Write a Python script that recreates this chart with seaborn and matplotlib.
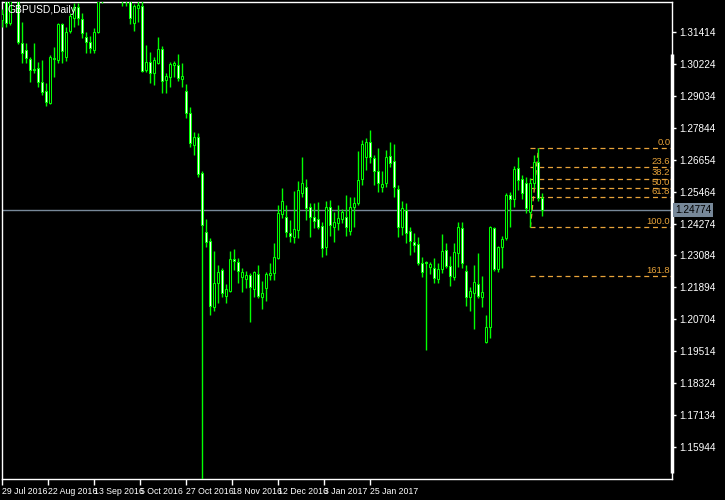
import numpy as np
import matplotlib
matplotlib.use("Agg")
import matplotlib.pyplot as plt
import matplotlib.transforms as mtransforms
import seaborn as sns

symbol_title = "GBPUSD,Daily"

opens = [1.3185, 1.3259, 1.3174, 1.3267, 1.3282, 1.3099, 1.3073, 1.3040, 1.3003, 1.3006,
         1.2954, 1.2921, 1.2876, 1.3044, 1.3036, 1.3170, 1.3047, 1.3144, 1.3193, 1.3233,
         1.3189, 1.3122, 1.3103, 1.3073, 1.3140, 1.3282, 1.3304, 1.3326, 1.3312, 1.3334,
         1.3304, 1.3267, 1.3274, 1.3174, 1.3230, 1.3237, 1.2999, 1.3029, 1.2988, 1.3025,
         1.3077, 1.2962, 1.2973, 1.3017, 1.3017, 1.2965, 1.2921, 1.2839, 1.2720, 1.2749,
         1.2615, 1.2396, 1.2362, 1.2117, 1.2206, 1.2254, 1.2158, 1.2176, 1.2295, 1.2284,
         1.2228, 1.2221, 1.2236, 1.2184, 1.2239, 1.2154, 1.2187, 1.2236, 1.2243, 1.2299,
         1.2463, 1.2452, 1.2392, 1.2377, 1.2403, 1.2541, 1.2563, 1.2489, 1.2452, 1.2444,
         1.2418, 1.2340, 1.2489, 1.2414, 1.2429, 1.2444, 1.2452, 1.2400, 1.2489, 1.2504,
         1.2593, 1.2675, 1.2731, 1.2671, 1.2623, 1.2563, 1.2578, 1.2679, 1.2660, 1.2556,
         1.2414, 1.2478, 1.2399, 1.2359, 1.2351, 1.2280, 1.2284, 1.2266, 1.2262, 1.2221,
         1.2258, 1.2329, 1.2269, 1.2228, 1.2318, 1.2411, 1.2251, 1.2154, 1.2169, 1.2202,
         1.2154, 1.1986, 1.2042, 1.2411, 1.2258, 1.2340, 1.2373, 1.2534, 1.2519, 1.2634,
         1.2593, 1.2578, 1.2470, 1.2578, 1.2656, 1.2522]

highs = [1.3226, 1.3278, 1.3282, 1.3312, 1.3297, 1.3178, 1.3099, 1.3047, 1.3099, 1.3029,
         1.3036, 1.2950, 1.3055, 1.3085, 1.3174, 1.3174, 1.3159, 1.3211, 1.3248, 1.3248,
         1.3211, 1.3140, 1.3125, 1.3155, 1.3289, 1.3334, 1.3352, 1.3364, 1.3371, 1.3364,
         1.3334, 1.3319, 1.3297, 1.3244, 1.3259, 1.3256, 1.3092, 1.3066, 1.3047, 1.3122,
         1.3088, 1.2988, 1.3029, 1.3032, 1.3058, 1.3025, 1.2947, 1.2861, 1.2768, 1.2764,
         1.2623, 1.2444, 1.2373, 1.2325, 1.2273, 1.2262, 1.2202, 1.2325, 1.2333, 1.2299,
         1.2262, 1.2251, 1.2243, 1.2251, 1.2273, 1.2213, 1.2247, 1.2280, 1.2355, 1.2496,
         1.2560, 1.2496, 1.2440, 1.2548, 1.2586, 1.2675, 1.2593, 1.2504, 1.2504, 1.2507,
         1.2433, 1.2511, 1.2515, 1.2470, 1.2496, 1.2481, 1.2533, 1.2526, 1.2526, 1.2697,
         1.2738, 1.2746, 1.2776, 1.2682, 1.2708, 1.2623, 1.2701, 1.2731, 1.2723, 1.2571,
         1.2511, 1.2504, 1.2414, 1.2392, 1.2377, 1.2303, 1.2288, 1.2284, 1.2299, 1.2280,
         1.2388, 1.2355, 1.2306, 1.2355, 1.2433, 1.2433, 1.2273, 1.2191, 1.2273, 1.2318,
         1.2232, 1.2087, 1.2418, 1.2414, 1.2344, 1.2381, 1.2541, 1.2545, 1.2641, 1.2675,
         1.2608, 1.2600, 1.2597, 1.2682, 1.2707, 1.2541]

lows = [1.3159, 1.3159, 1.3166, 1.3259, 1.3096, 1.3025, 1.3025, 1.2954, 1.2988, 1.2936,
        1.2906, 1.2865, 1.2872, 1.2973, 1.3025, 1.3025, 1.3032, 1.3137, 1.3159, 1.3166,
        1.3118, 1.3062, 1.3062, 1.3062, 1.3137, 1.3248, 1.3278, 1.3289, 1.3282, 1.3274,
        1.3237, 1.3237, 1.3170, 1.3144, 1.3178, 1.2991, 1.2991, 1.2950, 1.2943, 1.3021,
        1.2913, 1.2913, 1.2936, 1.2973, 1.2958, 1.2936, 1.2820, 1.2712, 1.2682, 1.2600,
        1.1476, 1.2340, 1.2087, 1.2102, 1.2131, 1.2154, 1.2131, 1.2172, 1.2254, 1.2206,
        1.2172, 1.2187, 1.2061, 1.2154, 1.2150, 1.2109, 1.2139, 1.2217, 1.2217, 1.2295,
        1.2448, 1.2377, 1.2359, 1.2355, 1.2373, 1.2526, 1.2440, 1.2377, 1.2411, 1.2407,
        1.2303, 1.2310, 1.2381, 1.2359, 1.2403, 1.2429, 1.2381, 1.2385, 1.2414, 1.2496,
        1.2571, 1.2627, 1.2653, 1.2571, 1.2545, 1.2545, 1.2563, 1.2638, 1.2526, 1.2377,
        1.2385, 1.2355, 1.2310, 1.2321, 1.2273, 1.2228, 1.1957, 1.2239, 1.2206, 1.2206,
        1.2243, 1.2262, 1.2195, 1.2217, 1.2266, 1.2262, 1.2120, 1.2102, 1.2035, 1.2150,
        1.2117, 1.1983, 1.2001, 1.2251, 1.2247, 1.2262, 1.2366, 1.2414, 1.2489, 1.2552,
        1.2519, 1.2466, 1.2413, 1.2560, 1.2511, 1.2455]

closes = [1.3207, 1.3174, 1.3259, 1.3289, 1.3103, 1.3062, 1.3044, 1.2999, 1.2999, 1.2954,
          1.2917, 1.2880, 1.3047, 1.3040, 1.3170, 1.3070, 1.3140, 1.3200, 1.3233, 1.3193,
          1.3137, 1.3103, 1.3081, 1.3140, 1.3274, 1.3304, 1.3326, 1.3312, 1.3334, 1.3304,
          1.3267, 1.3282, 1.3193, 1.3237, 1.3241, 1.2995, 1.3029, 1.2988, 1.3036, 1.3077,
          1.2958, 1.2977, 1.3021, 1.3025, 1.2969, 1.2977, 1.2839, 1.2727, 1.2749, 1.2612,
          1.2422, 1.2359, 1.2120, 1.2206, 1.2247, 1.2169, 1.2184, 1.2295, 1.2288, 1.2251,
          1.2247, 1.2236, 1.2191, 1.2247, 1.2158, 1.2169, 1.2239, 1.2243, 1.2303, 1.2466,
          1.2511, 1.2396, 1.2381, 1.2407, 1.2552, 1.2578, 1.2485, 1.2452, 1.2437, 1.2414,
          1.2336, 1.2489, 1.2422, 1.2433, 1.2448, 1.2470, 1.2414, 1.2489, 1.2504, 1.2589,
          1.2723, 1.2731, 1.2675, 1.2623, 1.2578, 1.2574, 1.2675, 1.2653, 1.2563, 1.2414,
          1.2485, 1.2392, 1.2362, 1.2347, 1.2280, 1.2247, 1.2280, 1.2277, 1.2225, 1.2258,
          1.2325, 1.2269, 1.2232, 1.2321, 1.2414, 1.2280, 1.2154, 1.2176, 1.2210, 1.2158,
          1.2172, 1.2042, 1.2414, 1.2258, 1.2340, 1.2370, 1.2534, 1.2519, 1.2630, 1.2589,
          1.2541, 1.2485, 1.2578, 1.2656, 1.2522, 1.24774]

date_labels = ["29 Jul 2016", "22 Aug 2016", "13 Sep 2016", "5 Oct 2016", "27 Oct 2016",
               "18 Nov 2016", "12 Dec 2016", "3 Jan 2017", "25 Jan 2017"]
price_ticks = [1.31414, 1.30224, 1.29034, 1.27844, 1.26654, 1.25464, 1.24274,
               1.23084, 1.21894, 1.20704, 1.19514, 1.18324, 1.17134, 1.15944]
fib_levels = [0.0, 23.6, 38.2, 50.0, 61.8, 100.0, 161.8]
fib_low_bar = 132
fib_high_bar = 134

# ---- style ----
sns.set_theme(style="dark", rc={"axes.facecolor": "black", "figure.facecolor": "black"})
plt.rcParams["font.family"] = ["Liberation Sans", "DejaVu Sans"]

GREEN = "#00FF00"
ORANGE = "#E8A33A"
SLATE = "#778899"

W, H = 725, 500
fig = plt.figure(figsize=(W / 100, H / 100), dpi=100)
ax = fig.add_axes([2 / W, (H - 479) / H, 670 / W, 477 / H])
ax.set_facecolor("black")

n = len(opens)
x = np.arange(n)
o = np.array(opens); c = np.array(closes); hi = np.array(highs); lo = np.array(lows)

# bid line
ax.axhline(closes[-1], color=SLATE, lw=1, zorder=1)

# fibonacci
fh = highs[fib_high_bar]
fl = lows[fib_low_bar]
xmax = 167.4
for lv in fib_levels:
    p = fh - lv / 100.0 * (fh - fl)
    ax.hlines(p, fib_low_bar, xmax, colors=ORANGE, lw=0.9, linestyles=(0, (4, 3)), zorder=2)
    ax.annotate(f"{lv:.1f}", xy=(xmax, p), xytext=(-1.2, 1.0), textcoords="offset points",
                ha="right", va="bottom", color=ORANGE, fontsize=6.8, zorder=5)
ax.plot([fib_low_bar, fib_high_bar], [fl, fh], color=ORANGE, lw=0.9,
        linestyle=(0, (4, 3)), zorder=2)

# candles
ax.vlines(x, lo, hi, color=GREEN, lw=1.0, zorder=3)
bull = c > o
fills = np.where(bull, "black", "white")
ax.bar(x, np.maximum(np.abs(c - o), 0.00005), bottom=np.minimum(o, c), width=0.5,
       color=fills, edgecolor=GREEN, linewidth=0.75, zorder=4)

ax.set_xlim(-0.1, xmax)
ax.set_ylim(1.14764, 1.32520)

# axes styling
for s in ax.spines.values():
    s.set_color("white")
    s.set_linewidth(1.0)
    s.set_visible(True)

ax.yaxis.tick_right()
ax.set_yticks(price_ticks)
ax.set_yticklabels([f"{t:.5f}" for t in price_ticks])
ax.tick_params(axis="y", colors="white", direction="out", length=3, width=1,
               labelsize=7.2, pad=2, labelcolor="white", right=True, left=False)

ax.set_xticks(np.arange(len(date_labels)) * 11.5)
ax.set_xticklabels(date_labels, ha="left", fontsize=6.3)
ax.tick_params(axis="x", colors="white", direction="out", length=4, width=1,
               pad=1.5, labelcolor="white", bottom=True)
ax.grid(False)

# thick right bar
ax.plot([1.0, 1.0], [(479 - 473) / 477, (479 - 54) / 477], transform=ax.transAxes,
        color="white", lw=2.5, solid_capstyle="butt", clip_on=False, zorder=6)

# price tag
trans = mtransforms.blended_transform_factory(ax.transAxes, ax.transData)
ax.text(1.0045, closes[-1], f"{closes[-1]:.5f}", transform=trans, ha="left", va="center",
        fontsize=7.2, color="black",
        bbox=dict(boxstyle="square,pad=0.2", facecolor=SLATE, edgecolor="none"), zorder=7,
        clip_on=False)

fig.text(7 / W, 1 - 10 / H, symbol_title, color="white", fontsize=7.4, ha="left",
         va="center", zorder=10)

fig.savefig("out.png", dpi=100, facecolor="black")
